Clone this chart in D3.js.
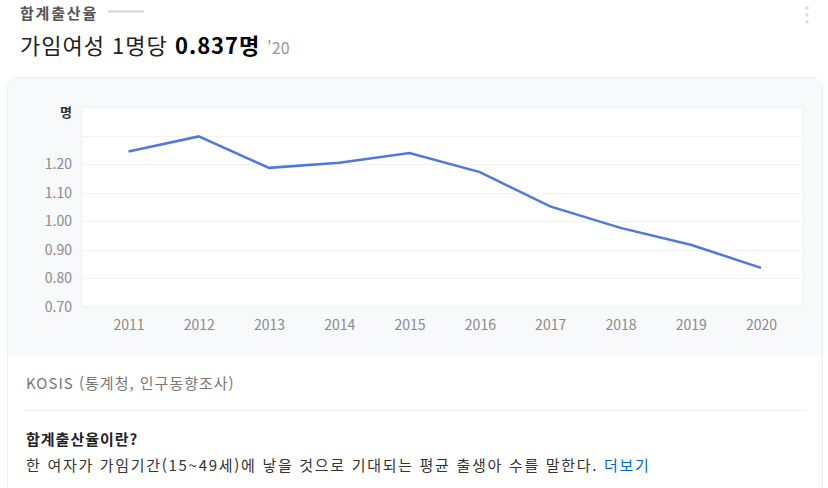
<!DOCTYPE html>
<html lang="ko">
<head>
<meta charset="utf-8">
<title>합계출산율</title>
<style>
  body { margin: 0; background: #fff; font-family: "Noto Sans CJK KR", "Noto Sans", sans-serif; }
  svg text { font-family: "Noto Sans CJK KR", "Noto Sans", sans-serif; }
  .axis .domain { display: none; }
  .axis .tick line { display: none; }
  .axis .tick text { fill: #8a8a8a; font-size: 14px; }
</style>
</head>
<body>
<svg id="chart" width="828" height="488"></svg>
<script src="https://cdn.jsdelivr.net/npm/d3@7"></script>
<script>
// data
var years = [2011, 2012, 2013, 2014, 2015, 2016, 2017, 2018, 2019, 2020];
var rates = [1.244, 1.297, 1.187, 1.205, 1.239, 1.172, 1.052, 0.977, 0.918, 0.837];
var yTicks = [0.70, 0.80, 0.90, 1.00, 1.10, 1.20, 1.30, 1.40];
var yLabels = [0.70, 0.80, 0.90, 1.00, 1.10, 1.20];

var svg = d3.select("#chart");

// header
svg.append("text").attr("x", 20).attr("y", 19)
  .style("font-size", "15px").style("font-weight", "600").style("fill", "#555")
  .style("letter-spacing", "1.8px")
  .text("합계출산율");
svg.append("line").attr("x1", 108).attr("x2", 144).attr("y1", 11.5).attr("y2", 11.5)
  .style("stroke", "#d4d4d8").style("stroke-width", 2);

var head = svg.append("text").attr("x", 20).attr("y", 54)
  .style("font-size", "22px").style("fill", "#222").style("letter-spacing", "1px");
head.append("tspan").text("가임여성 1명당 ");
head.append("tspan").style("font-weight", "bold").style("fill", "#000").text("0.837명");
head.append("tspan").attr("dx", 7).style("font-size", "16px").style("fill", "#999")
  .style("letter-spacing", "0px").text("'20");

// menu dots
[8, 15, 22].forEach(function (cy) {
  svg.append("circle").attr("cx", 807).attr("cy", cy).attr("r", 1.7).style("fill", "#dcdcdc");
});

// card
svg.append("rect").attr("x", 7.5).attr("y", 77.5).attr("width", 815).attr("height", 440).attr("rx", 11)
  .style("fill", "#fff").style("stroke", "#eceef1");
svg.append("path")
  .attr("d", "M8,357 L8,89 Q8,78 19,78 L811,78 Q822,78 822,89 L822,357 Z")
  .style("fill", "#f8f9fb");

// plot area
var plotLeft = 82, plotRight = 803, plotTop = 107, plotBottom = 307;
var x = d3.scalePoint().domain(years).range([128.5, 761]);
var y = d3.scaleLinear().domain([0.7, 1.4]).range([plotBottom, plotTop]);

svg.append("rect").attr("x", plotLeft).attr("y", plotTop)
  .attr("width", plotRight - plotLeft).attr("height", plotBottom - plotTop)
  .style("fill", "#fff").style("stroke", "#eef0f3");

svg.append("g").selectAll("line").data(yTicks).join("line")
  .attr("x1", plotLeft).attr("x2", plotRight)
  .attr("y1", function (d) { return Math.round(y(d)) + 0.5; })
  .attr("y2", function (d) { return Math.round(y(d)) + 0.5; })
  .style("stroke", "#f1f3f5");

svg.append("g").attr("class", "axis")
  .attr("transform", "translate(" + (plotLeft + 2) + ",0)")
  .call(d3.axisLeft(y).tickValues(yLabels).tickFormat(d3.format(".2f")).tickSize(0).tickPadding(12));

svg.append("text").attr("x", 72).attr("y", 117).attr("text-anchor", "end")
  .style("font-size", "13px").style("font-weight", "bold").style("fill", "#333").text("명");

svg.append("g").attr("class", "axis")
  .attr("transform", "translate(0," + (plotBottom + 5) + ")")
  .call(d3.axisBottom(x).tickSize(0).tickPadding(8));

var line = d3.line()
  .x(function (d, i) { return x(years[i]); })
  .y(function (d) { return y(d); });

svg.append("path").datum(rates).attr("d", line)
  .style("fill", "none").style("stroke", "#5277e0").style("stroke-width", 2.5);

// footer
svg.append("text").attr("x", 26).attr("y", 389)
  .style("font-size", "15px").style("fill", "#777").style("letter-spacing", "1px")
  .text("KOSIS (통계청, 인구동향조사)");
svg.append("line").attr("x1", 26).attr("x2", 805).attr("y1", 410.5).attr("y2", 410.5)
  .style("stroke", "#eeeeee");
svg.append("text").attr("x", 26).attr("y", 445)
  .style("font-size", "15px").style("font-weight", "bold").style("fill", "#222")
  .style("letter-spacing", "1px").text("합계출산율이란?");
var desc = svg.append("text").attr("x", 26).attr("y", 471)
  .style("font-size", "15px").style("fill", "#333").style("letter-spacing", "1.7px");
desc.append("tspan").text("한 여자가 가임기간(15~49세)에 낳을 것으로 기대되는 평균 출생아 수를 말한다. ");
desc.append("tspan").style("fill", "#0068c3").text("더보기");
</script>
</body>
</html>
